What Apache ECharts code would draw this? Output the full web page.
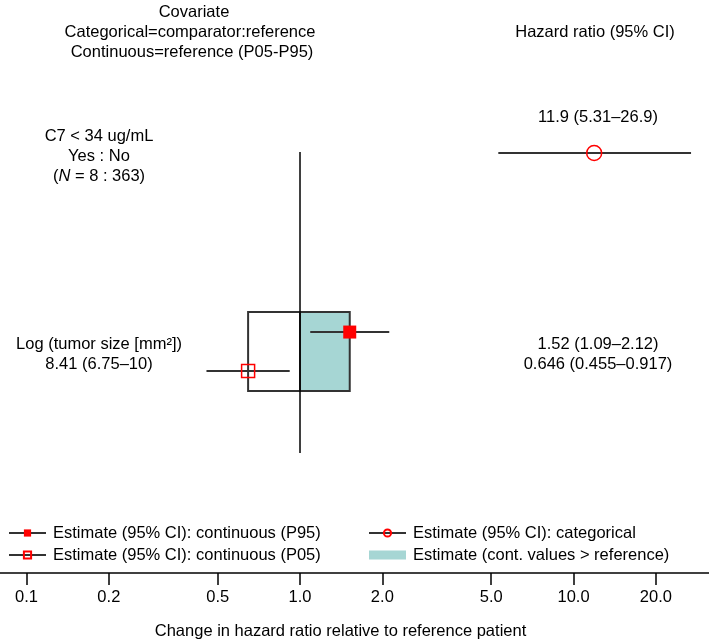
<!DOCTYPE html>
<html>
<head>
<meta charset="utf-8">
<script src="https://cdn.jsdelivr.net/npm/echarts@6/dist/echarts.min.js"></script>
<style>
  html, body { margin: 0; padding: 0; background: #fff; }
  #chart { width: 709px; height: 644px; }
</style>
</head>
<body>
<div id="chart"></div>
<script>
// rows on the y axis: categorical C7 row on top, tumor size row below
const rowY = [1, 0];
const covariateLabels = [
  ['C7 < 34 ug/mL', 'Yes : No', '({it|N} = 8 : 363)'],
  ['Log (tumor size [mm²])', '8.41 (6.75–10)'],
];
// hazard ratios: [estimate, lower, upper]
const categoricalHR = [11.9, 5.31, 26.9];
const p95HR = [1.52, 1.09, 2.12];
const p05HR = [0.646, 0.455, 0.917];
const referenceHR = 1;
const tickValues = [0.1, 0.2, 0.5, 1, 2, 5, 10, 20];
const headerLeft = ['Covariate', 'Categorical=comparator:reference', 'Continuous=reference (P05-P95)'];
const headerRight = 'Hazard ratio (95% CI)';
const axisTitle = 'Change in hazard ratio relative to reference patient';

const FONT = '"Liberation Sans", Arial, sans-serif';
const FS = 16.5;
const TEAL = '#a6d6d4';
const RED = '#ff0000';
const LINE = '#333';

// layout in row units
const dodge = 0.098;
const boxHalf = 0.199;
const refTop = 1.005;
const refBottom = -0.511;
const hrOffset = [-36, 3];

const p3 = (v) => v.toPrecision(3);
const fmtHR = (hr) => `${p3(hr[0])} (${p3(hr[1])}–${p3(hr[2])})`;
const hrLabels = [[fmtHR(categoricalHR)], [fmtHR(p95HR), fmtHR(p05HR)]];

const textStyle = {
  fontSize: FS,
  fontFamily: FONT,
  fill: '#000',
  align: 'center',
  verticalAlign: 'middle',
  lineHeight: 20,
};

function ciSeries(name, hr, y, symbol, size, itemStyle) {
  return {
    name,
    type: 'line',
    z: 3,
    symbol,
    symbolSize: size,
    itemStyle,
    lineStyle: { color: LINE, width: 2 },
    emphasis: { disabled: true },
    data: [
      { value: [hr[1], y], symbol: 'none' },
      [hr[0], y],
      { value: [hr[2], y], symbol: 'none' },
    ],
  };
}

const legendCommon = {
  orient: 'vertical',
  top: 518,
  itemWidth: 37,
  itemHeight: 9,
  itemGap: 2,
  selectedMode: false,
  textStyle: { color: '#000', fontSize: FS, fontFamily: FONT, lineHeight: 20, padding: [0, 0, 0, 2] },
};

const option = {
  animation: false,
  textStyle: { fontFamily: FONT },
  grid: { left: 0, right: 0, top: 0, bottom: 71, containLabel: false, outerBoundsMode: 'none' },
  legend: [
    Object.assign({}, legendCommon, {
      left: 3,
      data: ['Estimate (95% CI): continuous (P95)', 'Estimate (95% CI): continuous (P05)'],
    }),
    Object.assign({}, legendCommon, {
      left: 363,
      data: [
        'Estimate (95% CI): categorical',
        { name: 'Estimate (cont. values > reference)', icon: 'rect', itemStyle: { borderWidth: 0 } },
      ],
    }),
  ],
  xAxis: {
    type: 'log',
    logBase: 10,
    min: 0.08,
    max: 31.29,
    axisLine: { onZero: false, lineStyle: { color: '#000', width: 1.5 } },
    axisTick: { customValues: tickValues, length: 12, lineStyle: { color: '#000', width: 1.5 } },
    axisLabel: {
      customValues: tickValues,
      color: '#000',
      fontSize: FS,
      fontFamily: FONT,
      margin: 16,
      formatter: (v) => {
        const n = Number(Number(v).toPrecision(3));
        return n < 1 ? String(n) : n.toFixed(1);
      },
    },
    splitLine: { show: false },
    name: axisTitle,
    nameLocation: 'middle',
    nameGap: 50,
    nameTextStyle: { color: '#000', fontSize: FS, fontFamily: FONT, padding: [0, 28, 0, 0] },
  },
  yAxis: { type: 'value', min: -1.116, max: 1.771, show: false },
  graphic: [
    ...headerLeft.map((t, i) => ({
      type: 'text',
      x: [194, 190, 192][i],
      y: 12 + i * 20,
      style: Object.assign({ text: t }, textStyle),
    })),
    { type: 'text', x: 595, y: 32, style: Object.assign({ text: headerRight }, textStyle) },
  ],
  series: [
    {
      name: 'Estimate (cont. values > reference)',
      type: 'custom',
      z: 1,
      silent: true,
      itemStyle: { color: TEAL },
      encode: { x: [0, 1], y: 2 },
      data: [[p05HR[0], p95HR[0], rowY[1]]],
      renderItem: (params, api) => {
        const y = api.value(2);
        const children = [api.value(0), api.value(1)].map((v) => {
          const a = api.coord([Math.min(v, referenceHR), y + boxHalf]);
          const b = api.coord([Math.max(v, referenceHR), y - boxHalf]);
          return {
            type: 'rect',
            shape: { x: a[0], y: a[1], width: b[0] - a[0], height: b[1] - a[1] },
            style: { fill: v > referenceHR ? TEAL : '#fff', stroke: LINE, lineWidth: 2 },
          };
        });
        return { type: 'group', children };
      },
    },
    {
      type: 'line',
      z: 2,
      silent: true,
      symbol: 'none',
      lineStyle: { color: '#000', width: 1.5 },
      data: [[referenceHR, refTop], [referenceHR, refBottom]],
    },
    ciSeries('Estimate (95% CI): continuous (P95)', p95HR, rowY[1] + dodge, 'rect', 13,
      { color: RED, borderColor: RED, borderWidth: 0 }),
    ciSeries('Estimate (95% CI): continuous (P05)', p05HR, rowY[1] - dodge, 'rect', 13,
      { color: 'transparent', borderColor: RED, borderWidth: 1.5 }),
    ciSeries('Estimate (95% CI): categorical', categoricalHR, rowY[0], 'circle', 15,
      { color: 'transparent', borderColor: RED, borderWidth: 1.5 }),
    {
      type: 'custom',
      z: 4,
      silent: true,
      encode: { x: 0, y: 1 },
      data: rowY.map((y) => [referenceHR, y]),
      renderItem: (params, api) => {
        const i = params.dataIndex;
        const py = api.coord([referenceHR, api.value(1)])[1];
        return {
          type: 'group',
          children: [
            {
              type: 'text',
              x: 99,
              y: py + 3,
              style: Object.assign({
                text: covariateLabels[i].join('\n'),
                rich: { it: { fontStyle: 'italic', fontSize: FS, fontFamily: FONT, fill: '#000' } },
              }, textStyle),
            },
            {
              type: 'text',
              x: 598,
              y: py + hrOffset[i],
              style: Object.assign({ text: hrLabels[i].join('\n') }, textStyle),
            },
          ],
        };
      },
    },
  ],
};

const chart = echarts.init(document.getElementById('chart'));
chart.setOption(option);
</script>
</body>
</html>
